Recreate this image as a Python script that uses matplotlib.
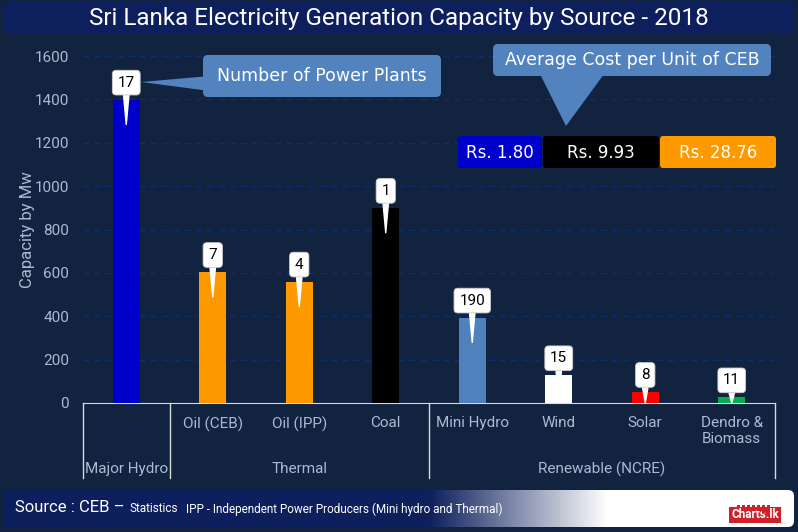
import matplotlib
matplotlib.use("Agg")
import matplotlib.pyplot as plt
import numpy as np
from matplotlib import font_manager
from matplotlib.patches import FancyBboxPatch, Polygon

# data
sources = ['Major Hydro', 'Oil (CEB)', 'Oil (IPP)', 'Coal', 'Mini Hydro', 'Wind', 'Solar', 'Dendro &\nBiomass']
groups = [('Major Hydro', 0, 0), ('Thermal', 1, 3), ('Renewable (NCRE)', 4, 7)]
capacity = [1399, 604, 560, 900, 394, 128, 51, 26]
plants = [17, 7, 4, 1, 190, 15, 8, 11]
bar_colors = ['#0000CC', '#FF9900', '#FF9900', '#000000', '#4F81BD', '#FFFFFF', '#FF0000', '#00B050']
cost_labels = ['Rs. 1.80', 'Rs. 9.93', 'Rs. 28.76']
cost_colors = ['#0000CC', '#000000', '#FF9900']

BG = '#12233F'
NAVY = '#0D1F5C'
CALLOUT = '#5283BE'
TXT = '#A9BAD3'

names = {f.name for f in font_manager.fontManager.ttflist}
narrow = 'Liberation Sans Narrow' if 'Liberation Sans Narrow' in names else 'Roboto'
cond = [narrow, 'DejaVu Sans']

W, H = 798, 532
fig = plt.figure(figsize=(W / 100, H / 100), dpi=100, facecolor=BG)

# background layer (pixel coordinates)
bg = fig.add_axes([0, 0, 1, 1], zorder=0)
bg.axis('off')
bg.add_patch(FancyBboxPatch((4, 2), W - 8, 32, boxstyle='round,pad=0,rounding_size=6',
                            fc=NAVY, ec='none'))
bg.text(W / 2, 19, 'Sri Lanka Electricity Generation Capacity by Source - 2018',
        ha='center', va='center', color='white', fontsize=17.5, family=cond)

# footer with gradient
foot = FancyBboxPatch((3, 490), W - 7, 37, boxstyle='round,pad=0,rounding_size=6',
                      fc='none', ec='none')
bg.add_patch(foot)
grad = np.ones((2, 400, 3))
t = np.clip((np.linspace(0, W, 400) - 430) / 180, 0, 1)
navy_rgb = np.array(matplotlib.colors.to_rgb(NAVY))
grad[:] = navy_rgb[None, None, :] * (1 - t)[None, :, None] + t[None, :, None]
im = bg.imshow(grad, extent=(3, W - 4, 527, 490), aspect='auto', zorder=1)
im.set_clip_path(foot)
bg.text(15, 508, 'Source : CEB \u2013', color='white', fontsize=12, va='center', family=cond, zorder=2)
bg.text(129, 509, 'Statistics', color='white', fontsize=8.5, va='center', family=cond, zorder=2)
bg.text(186, 509, 'IPP - Independent Power Producers (Mini hydro and Thermal)', color='white',
        fontsize=8.5, va='center', family=cond, zorder=2)
bg.text(755, 515, 'Charts.lk', color='white', fontsize=8.5, fontweight='bold', va='center', ha='center',
        family=cond, zorder=2, bbox=dict(boxstyle='square,pad=0.15', fc='#D0202A', ec='none'))
bg.bar([738, 743, 748, 753, 758, 763, 768], [2, 2, 2, 4, 6, 8, 10], bottom=505, width=3,
       color='#D0202A', zorder=2)
bg.set_xlim(0, W)
bg.set_ylim(H, 0)

# main chart
ax = fig.add_axes([83 / W, 1 - 403 / H, 692 / W, (403 - 56) / H], zorder=1)
ax.set_facecolor('none')
x = np.arange(len(sources))
ax.bar(x, capacity, width=0.31, color=bar_colors, zorder=3)
ax.set_xlim(-0.5, len(sources) - 0.5)
ax.set_ylim(0, 1600)
ax.set_yticks(np.arange(0, 1601, 200))
ax.tick_params(axis='y', length=0, colors=TXT, labelsize=11, pad=10)
for lab in ax.get_yticklabels():
    lab.set_family(cond)
ax.set_xticks([])
ax.grid(axis='y', color='#0B2E73', linestyle=(0, (5, 4)), linewidth=0.9, zorder=0)
for s in ['top', 'right', 'left']:
    ax.spines[s].set_visible(False)
ax.spines['bottom'].set_color('#D9D9D9')
ax.set_ylabel('Capacity by Mw', color=TXT, fontsize=12, family=cond, labelpad=0)

# multi-level category axis
tr = ax.get_xaxis_transform()
for pos in [-0.5, 0.5, 3.5, len(sources) - 0.5]:
    ax.plot([pos, pos], [0, -0.215], color='#D9D9D9', lw=1, transform=tr, clip_on=False)
for i, name in enumerate(sources):
    if i == 0:
        continue
    ax.text(i, -0.038, name, transform=tr, ha='center', va='top', color=TXT, fontsize=11,
            family=cond, linespacing=1.2)
for name, a, b in groups:
    ax.text((a + b) / 2, -0.19, name, transform=tr, ha='center', va='center', color=TXT,
            fontsize=11, family=cond)

# data callouts with plant counts
for i, (v, n) in enumerate(zip(capacity, plants)):
    tip = min(115, v)
    ax.annotate(str(n), xy=(i, v - tip), xytext=(0, (17 + tip * 0.2166) * 0.72), textcoords='offset points',
                ha='center', va='center', fontsize=11, color='black', family=cond, zorder=5,
                bbox=dict(boxstyle='round,pad=0.35,rounding_size=0.25', fc='white', ec='#CCCCCC', lw=0.6),
                arrowprops=dict(arrowstyle='wedge,tail_width=0.35', fc='white', ec='white',
                                shrinkA=0, shrinkB=0))

# overlay callouts
ov = fig.add_axes([0, 0, 1, 1], zorder=2)
ov.set_xlim(0, W)
ov.set_ylim(H, 0)
ov.axis('off')
ov.add_patch(Polygon([(141, 82), (210, 76), (210, 91)], closed=True, fc=CALLOUT, ec='none'))
ov.add_patch(FancyBboxPatch((203, 55), 238, 42, boxstyle='round,pad=0,rounding_size=5', fc=CALLOUT, ec='none'))
ov.text(322, 76, 'Number of Power Plants', ha='center', va='center', color='white', fontsize=12.5)
ov.add_patch(Polygon([(538, 70), (607, 70), (566, 126)], closed=True, fc=CALLOUT, ec='none'))
ov.add_patch(FancyBboxPatch((493, 44), 278, 32, boxstyle='round,pad=0,rounding_size=5', fc=CALLOUT, ec='none'))
ov.text(632, 60, 'Average Cost per Unit of CEB', ha='center', va='center', color='white', fontsize=12.5)
spans = [(458, 542), (543, 659), (660, 776)]
for (x0, x1), lab, c in zip(spans, cost_labels, cost_colors):
    ov.add_patch(FancyBboxPatch((x0, 136), x1 - x0, 32, boxstyle='round,pad=0,rounding_size=3', fc=c, ec='none'))
    ov.text((x0 + x1) / 2, 153, lab, ha='center', va='center', color='white', fontsize=12)

fig.savefig('out.png', dpi=100, facecolor=BG)
